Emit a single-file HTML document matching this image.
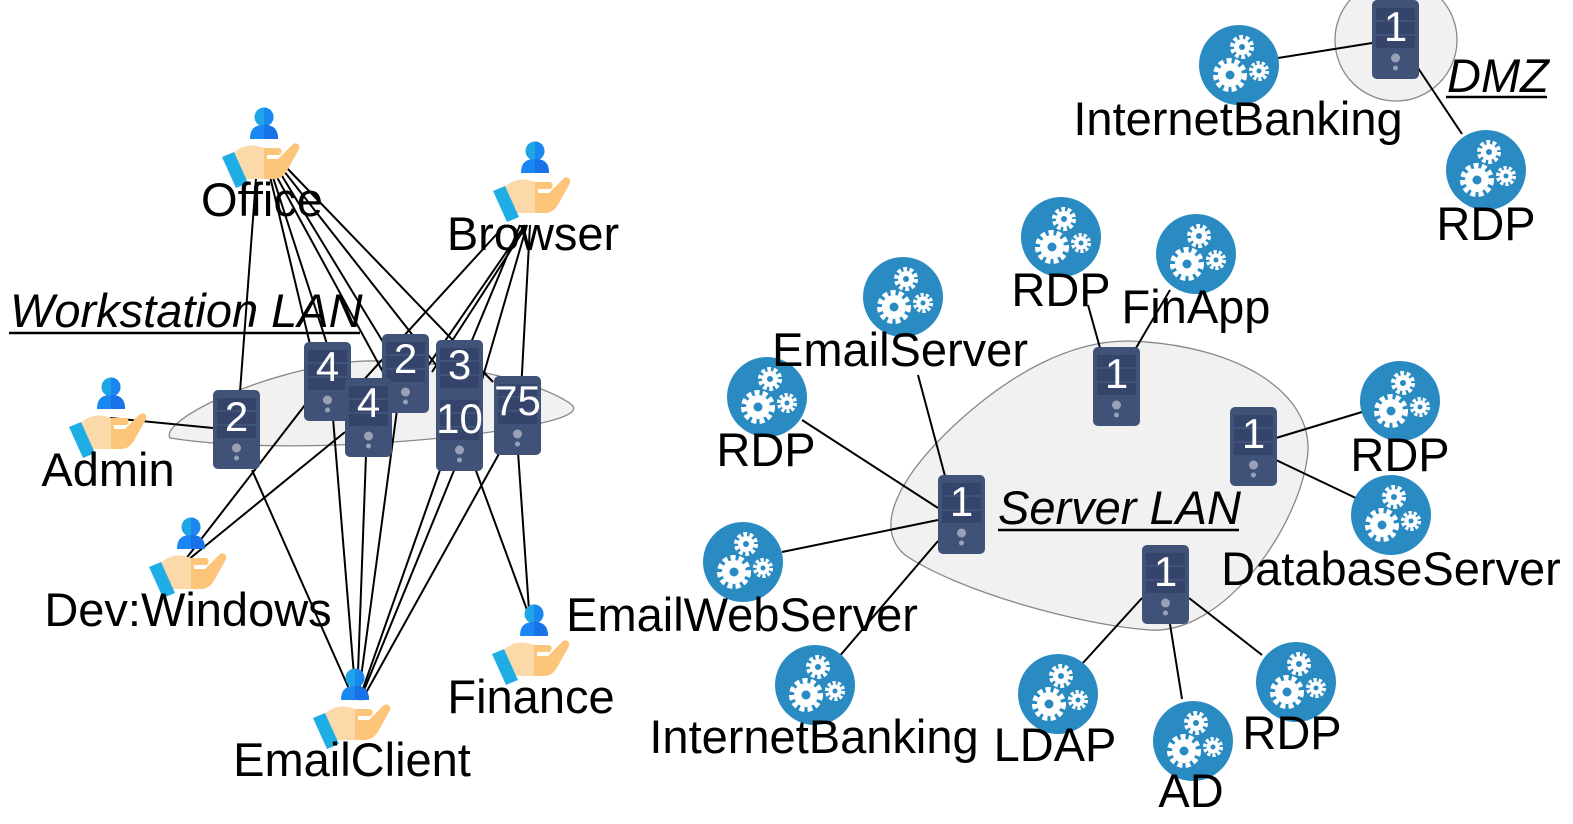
<!DOCTYPE html>
<html><head><meta charset="utf-8"><style>
html,body{margin:0;padding:0;background:#fff;}
svg{display:block;font-family:"Liberation Sans",sans-serif;}
</style></head><body>
<svg width="1573" height="824" viewBox="0 0 1573 824" xmlns="http://www.w3.org/2000/svg">
<defs>
<g id="srv">
<rect x="0" y="0" width="47" height="79" rx="5" fill="#415279"/>
<rect x="4" y="8" width="39" height="12" fill="#35446b"/>
<rect x="4" y="22" width="39" height="12" fill="#35446b"/>
<rect x="4" y="36" width="39" height="12" fill="#35446b"/>
<circle cx="23.5" cy="58" r="4.5" fill="#9aa1b6"/>
<circle cx="23.5" cy="68" r="2.5" fill="#9aa1b6"/>
</g>
<g id="cog">
<circle r="40" fill="#2a8bc3"/>
<g fill="#fff">
<circle cx="-9" cy="10" r="12"/>
<circle cx="-9" cy="10" r="14.5" fill="none" stroke="#fff" stroke-width="5" stroke-dasharray="5 3.1"/>
<circle cx="3" cy="-18" r="8"/>
<circle cx="3" cy="-18" r="10" fill="none" stroke="#fff" stroke-width="4" stroke-dasharray="3.8 2.5"/>
<circle cx="20" cy="6" r="6.5"/>
<circle cx="20" cy="6" r="8.3" fill="none" stroke="#fff" stroke-width="3.5" stroke-dasharray="3.2 2"/>
</g>
<circle cx="-9" cy="10" r="4.5" fill="#2a8bc3"/>
<circle cx="3" cy="-18" r="3" fill="#2a8bc3"/>
<circle cx="20" cy="6" r="2.5" fill="#2a8bc3"/>
</g>
<g id="per">
<circle cx="0" cy="-26" r="9.5" fill="#1da5e6"/>
<path d="M0,-35.5 A9.5,9.5 0 0 1 0,-16.5 Z" fill="#1a86ef"/>
<path d="M-14,-4 C-14,-16 -7,-18 0,-18 C7,-18 14,-16 14,-4 Z" fill="#1b87f2"/>
<path d="M0,-18 C7,-18 14,-16 14,-4 L0,-4 Z" fill="#1872e8"/>
<path d="M-30,10 C-20,0 -8,2 0,5 L0,36 L-18,36 L-26,28 Z" fill="#fcd9a9"/>
<path d="M0,5 L14,5 C19,5 19,12 14,12 L3,12 L3,16 L14,16 L28,2 C32,-2 38,2 34,8 L24,26 C20,33 16,36 10,36 L0,36 Z" fill="#fdc57a"/>
<path d="M-42,14 L-30,9 L-16,40 L-28,45 Z" fill="#1eaee5"/>
</g>
</defs>

<path d="M170,438 C160,420 260,372 350,362 C430,355 540,380 572,405 C585,418 520,428 470,435 C380,445 260,452 170,438 Z" fill="#f1f1f1" stroke="#888" stroke-width="1.3"/>
<path d="M1130,341 C1240,345 1318,395 1307,460 C1295,535 1220,635 1150,630 C1080,625 960,592 905,555 C870,525 905,470 960,420 C1010,375 1070,340 1130,341 Z" fill="#f1f1f1" stroke="#888" stroke-width="1.3"/>
<circle cx="1396" cy="40" r="61" fill="#f1f1f1" stroke="#888" stroke-width="1.3"/>

<g stroke="#000" stroke-width="2" fill="none">
<line x1="257" y1="165" x2="240" y2="392"/>
<line x1="268" y1="168" x2="318" y2="378"/>
<line x1="270" y1="168" x2="338" y2="378"/>
<line x1="272" y1="168" x2="383" y2="372"/>
<line x1="276" y1="166" x2="400" y2="370"/>
<line x1="280" y1="166" x2="440" y2="370"/>
<line x1="284" y1="165" x2="493" y2="382"/>
<line x1="505" y1="225" x2="350" y2="395"/>
<line x1="525" y1="225" x2="425" y2="370"/>
<line x1="527" y1="225" x2="432" y2="372"/>
<line x1="520" y1="225" x2="470" y2="345"/>
<line x1="527" y1="225" x2="482" y2="380"/>
<line x1="530" y1="225" x2="520" y2="410"/>
<line x1="110" y1="418" x2="213" y2="428"/>
<line x1="185" y1="560" x2="305" y2="405"/>
<line x1="188" y1="560" x2="345" y2="432"/>
<line x1="527" y1="610" x2="475" y2="468"/>
<line x1="529" y1="610" x2="518" y2="452"/>
<line x1="354" y1="700" x2="252" y2="470"/>
<line x1="356" y1="700" x2="333" y2="418"/>
<line x1="357" y1="700" x2="366" y2="455"/>
<line x1="358" y1="700" x2="397" y2="410"/>
<line x1="359" y1="700" x2="440" y2="470"/>
<line x1="360" y1="700" x2="455" y2="468"/>
<line x1="362" y1="700" x2="500" y2="452"/>
<line x1="1100" y1="348" x2="1088" y2="305"/>
<line x1="1136" y1="348" x2="1170" y2="290"/>
<line x1="1276" y1="438" x2="1362" y2="412"/>
<line x1="1276" y1="460" x2="1360" y2="500"/>
<line x1="945" y1="476" x2="918" y2="375"/>
<line x1="938" y1="508" x2="802" y2="420"/>
<line x1="938" y1="520" x2="782" y2="552"/>
<line x1="938" y1="541" x2="838" y2="658"/>
<line x1="1142" y1="598" x2="1082" y2="664"/>
<line x1="1170" y1="624" x2="1182" y2="699"/>
<line x1="1189" y1="598" x2="1262" y2="655"/>
<line x1="1278" y1="58" x2="1372" y2="43"/>
<line x1="1418" y1="68" x2="1462" y2="134"/>
</g>

<use href="#per" transform="translate(264,143)"/>
<use href="#per" transform="translate(535,177)"/>
<use href="#per" transform="translate(111,413)"/>
<use href="#per" transform="translate(191,553)"/>
<use href="#per" transform="translate(534,640)"/>
<use href="#per" transform="translate(355,704)"/>

<g font-size="42" fill="#fff" text-anchor="middle">
<use href="#srv" x="213" y="390"/><text x="236.5" y="431">2</text>
<use href="#srv" x="304" y="342"/><text x="327.5" y="381">4</text>
<use href="#srv" x="382" y="334"/><text x="405.5" y="373">2</text>
<use href="#srv" x="345" y="378"/><text x="368.5" y="417">4</text>
<use href="#srv" x="436" y="340"/><text x="459.5" y="379">3</text>
<use href="#srv" x="436" y="392"/><text x="459.5" y="433">10</text>
<use href="#srv" x="494" y="376"/><text x="517.5" y="415">75</text>
<use href="#srv" x="1093" y="347"/><text x="1116.5" y="388">1</text>
<use href="#srv" x="1230" y="407"/><text x="1253.5" y="448">1</text>
<use href="#srv" x="938" y="475"/><text x="961.5" y="516">1</text>
<use href="#srv" x="1142" y="545"/><text x="1165.5" y="586">1</text>
<use href="#srv" x="1372" y="0"/><text x="1395.5" y="41">1</text>
</g>

<use href="#cog" transform="translate(1239,65)"/>
<use href="#cog" transform="translate(1486,170)"/>
<use href="#cog" transform="translate(1061,237)"/>
<use href="#cog" transform="translate(1196,254)"/>
<use href="#cog" transform="translate(903,297)"/>
<use href="#cog" transform="translate(767,397)"/>
<use href="#cog" transform="translate(1400,401)"/>
<use href="#cog" transform="translate(1391,515)"/>
<use href="#cog" transform="translate(743,562)"/>
<use href="#cog" transform="translate(815,685)"/>
<use href="#cog" transform="translate(1058,694)"/>
<use href="#cog" transform="translate(1193,741)"/>
<use href="#cog" transform="translate(1296,682)"/>

<g font-size="47" fill="#000" text-anchor="middle">
<text x="1238" y="135">InternetBanking</text>
<text x="1486" y="240">RDP</text>
<text x="1061" y="306">RDP</text>
<text x="1196" y="323">FinApp</text>
<text x="900" y="366">EmailServer</text>
<text x="766" y="466">RDP</text>
<text x="1400" y="471">RDP</text>
<text x="1391" y="585">DatabaseServer</text>
<text x="742" y="631">EmailWebServer</text>
<text x="814" y="753">InternetBanking</text>
<text x="1055" y="761">LDAP</text>
<text x="1191" y="807">AD</text>
<text x="1292" y="749">RDP</text>
<text x="262" y="216">Office</text>
<text x="533" y="250">Browser</text>
<text x="108" y="486">Admin</text>
<text x="188" y="626">Dev:Windows</text>
<text x="531" y="713">Finance</text>
<text x="352" y="776">EmailClient</text>
</g>
<g font-size="47" font-style="italic" fill="#000">
<text x="10" y="327">Workstation LAN</text>
<text x="998" y="524">Server LAN</text>
<text x="1447" y="92">DMZ</text>
</g>
<g stroke="#000" stroke-width="2.5">
<line x1="9" y1="333" x2="360" y2="333"/>
<line x1="998" y1="530" x2="1239" y2="530"/>
<line x1="1446" y1="97" x2="1547" y2="97"/>
</g>
</svg>
</body></html>
